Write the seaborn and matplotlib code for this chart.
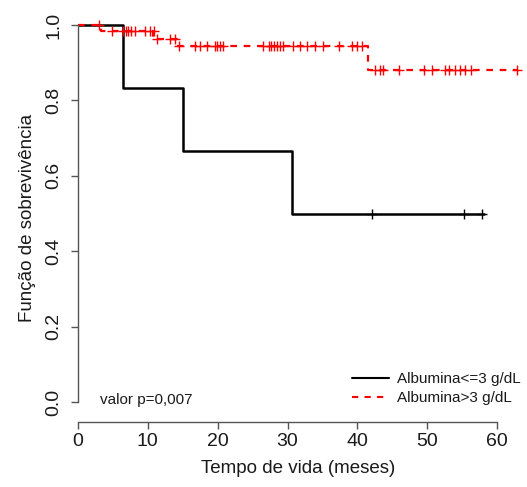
import matplotlib
matplotlib.use("Agg")
import matplotlib.pyplot as plt
import seaborn as sns
import pandas as pd
from matplotlib.lines import Line2D

# --- data ---
low_t = [0, 6.4, 15.0, 30.6, 58.2]
low_s = [1.0, 0.833, 0.667, 0.5, 0.5]
low_cens_t = [42.1, 55.3, 57.8]
low_cens_s = [0.5, 0.5, 0.5]

high_t = [0, 3.3, 10.8, 14.2, 41.5, 62.8]
high_s = [1.0, 0.983, 0.964, 0.943, 0.881, 0.881]
high_cens_t = [3.0,
               4.8, 6.5, 6.9, 7.2, 7.6, 8.2, 9.6, 10.3, 10.9,
               11.3, 13.2, 13.9,
               14.5, 16.8, 17.5, 18.4, 19.6, 19.9, 20.3, 20.8, 26.5, 27.3, 27.7,
               28.0, 28.5, 28.9, 29.4, 30.8, 31.8, 32.8, 33.9, 35.1, 37.3, 39.2,
               39.9, 40.6,
               42.5, 43.3, 43.7, 45.9, 49.5, 50.7, 52.6, 53.1, 54.0, 54.7, 55.4,
               56.2, 62.8]
high_cens_s = [1.0] + [0.983] * 9 + [0.964] * 3 + [0.943] * 24 + [0.881] * 13

labels = ["Albumina<=3 g/dL", "Albumina>3 g/dL"]
xticks = [0, 10, 20, 30, 40, 50, 60]
yticks = [0.0, 0.2, 0.4, 0.6, 0.8, 1.0]

sns.set_style("white")
plt.rcParams["font.family"] = ["Liberation Sans", "DejaVu Sans"]
txt = "#1a1a1a"

fig = plt.figure(figsize=(5.27, 4.87), dpi=100)
W, H = 527, 487
ax = fig.add_axes([78 / W, (H - 422) / H, (518 - 78) / W, (422 - 13.7) / H])

red = "#ff0000"
sns.lineplot(x=low_t, y=low_s, drawstyle="steps-post", estimator=None, sort=False,
             color="black", linewidth=1.8, ax=ax, legend=False)
sns.lineplot(x=high_t, y=high_s, drawstyle="steps-post", estimator=None, sort=False,
             color=red, linewidth=1.6, ax=ax, legend=False)
ax.lines[-1].set_dashes((3, 3))

sns.scatterplot(x=low_cens_t, y=low_cens_s, marker="+", s=50, color="black",
                linewidth=1.0, ax=ax, legend=False, clip_on=False, zorder=3)
sns.scatterplot(x=high_cens_t, y=high_cens_s, marker="+", s=50, color=red,
                linewidth=1.0, ax=ax, legend=False, clip_on=False, zorder=3)

ax.set_xlim(0, 63)
ax.set_ylim(-0.053, 1.03)

for s in ["top", "right"]:
    ax.spines[s].set_visible(False)
for s in ["left", "bottom"]:
    ax.spines[s].set_color("#555555")
    ax.spines[s].set_linewidth(1.0)
ax.spines["left"].set_bounds(0, 1)
ax.spines["bottom"].set_bounds(0, 60)

ax.set_xticks(xticks)
ax.set_xticklabels([str(v) for v in xticks], fontsize=14, color=txt)
ax.set_yticks(yticks)
ax.set_yticklabels([f"{v:.1f}" for v in yticks], fontsize=14, rotation=90,
                   va="center", color=txt)
ax.tick_params(axis="both", which="major", length=5, width=1.0, color="#555555",
               direction="out", left=True, bottom=True)
ax.tick_params(axis="x", pad=3)
ax.tick_params(axis="y", pad=6)

ax.set_xlabel("Tempo de vida (meses)", fontsize=13.5, labelpad=7, color=txt)
ax.set_ylabel("Função de sobrevivência", fontsize=13.5, labelpad=7, color=txt)

ax.text(3.2, 0.005, "valor p=0,007", fontsize=11, va="center", ha="left", color=txt)

handles = [Line2D([], [], color="black", linewidth=1.5),
           Line2D([], [], color=red, linewidth=1.5, dashes=(3, 3))]
leg = ax.legend(handles, labels, loc="lower right", frameon=False, fontsize=11,
                bbox_to_anchor=(527 / W, (H - 411) / H), bbox_transform=fig.transFigure,
                borderaxespad=0, handlelength=2.4, handletextpad=0.55, labelspacing=0.3)
for t in leg.get_texts():
    t.set_color(txt)

fig.savefig("out.png", dpi=100)
